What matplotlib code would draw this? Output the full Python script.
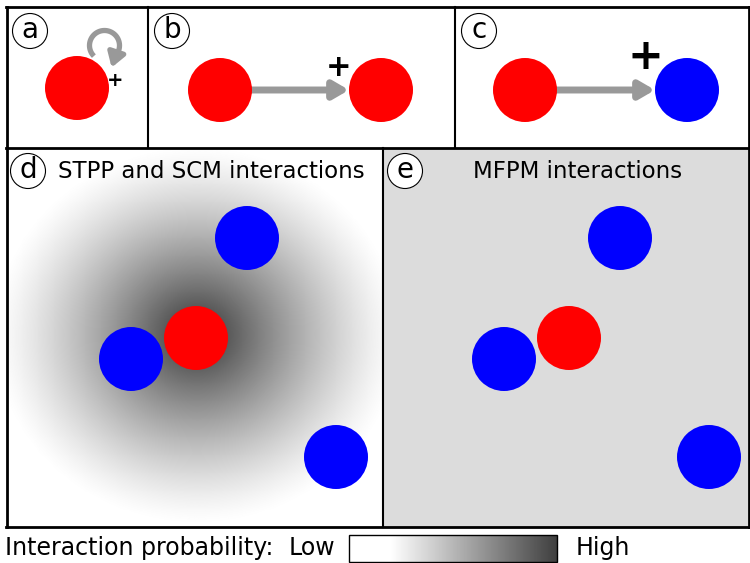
import numpy as np
import matplotlib.pyplot as plt
from matplotlib.patches import Circle, Rectangle, FancyArrowPatch
from matplotlib.colors import LinearSegmentedColormap

# node positions in picture pixels (x, y from top)
panel_a_nodes = [(77, 88)]
panel_a_colors = ['red']
panel_b_nodes = [(220, 90), (381, 90)]
panel_b_colors = ['red', 'red']
panel_c_nodes = [(525, 90), (687, 90)]
panel_c_colors = ['red', 'blue']
panel_d_nodes = [(247, 238), (196, 338), (131, 359), (336, 457)]
panel_d_colors = ['blue', 'red', 'blue', 'blue']
e_shift = 373
panel_labels = ['a', 'b', 'c', 'd', 'e']
label_pos = [(30, 31), (172, 31), (479, 31), (28, 171), (405, 171)]
titles = ['STPP and SCM interactions', 'MFPM interactions']
title_pos = [(211, 171), (578, 171)]
node_r = 32

fig = plt.figure(figsize=(7.5, 5.63), dpi=100)
ax = fig.add_axes([0, 0, 1, 1])
ax.set_xlim(0, 750)
ax.set_ylim(563, 0)
ax.axis('off')

greys = LinearSegmentedColormap.from_list('g', ['white', 'black'])

# panel e background
ax.add_patch(Rectangle((383, 148), 367, 379, facecolor='#dcdcdc', edgecolor='none', zorder=0))

# radial field around the red node in panel d
xx, yy = np.meshgrid(np.linspace(7, 383, 400), np.linspace(148, 527, 400))
cx, cy = 197, 335
s = np.sqrt(((xx - cx) / 205.0) ** 2 + ((yy - cy) / 190.0) ** 2)
field = 0.8 * np.clip(1 - s, 0, 1) ** 1.3
ax.imshow(field, cmap=greys, vmin=0, vmax=1, extent=(7, 383, 527, 148), zorder=0.5, interpolation='bilinear')

# frame lines
lw = 2
ax.plot([6, 750], [7, 7], color='black', lw=lw, zorder=5)
ax.plot([6, 750], [148, 148], color='black', lw=lw, zorder=5)
ax.plot([6, 750], [527, 527], color='black', lw=lw, zorder=5)
ax.plot([7, 7], [7, 527], color='black', lw=lw, zorder=5)
ax.plot([749, 749], [7, 527], color='black', lw=lw, zorder=5)
ax.plot([148, 148], [7, 148], color='black', lw=1.5, zorder=5)
ax.plot([455, 455], [7, 148], color='black', lw=1.5, zorder=5)
ax.plot([383, 383], [148, 527], color='black', lw=1.5, zorder=5)

def draw_nodes(pos, cols, dx=0):
    for (x, y), c in zip(pos, cols):
        ax.add_patch(Circle((x + dx, y), node_r, facecolor=c, edgecolor='none', zorder=3))

draw_nodes(panel_a_nodes, panel_a_colors)
draw_nodes(panel_b_nodes, panel_b_colors)
draw_nodes(panel_c_nodes, panel_c_colors)
draw_nodes(panel_d_nodes, panel_d_colors)
draw_nodes(panel_d_nodes, panel_d_colors, dx=e_shift)

# arrows b and c
for (x0, y0), (x1, y1) in [panel_b_nodes, panel_c_nodes]:
    ax.add_patch(FancyArrowPatch((x0 + node_r - 2, y0), (x1 - node_r, y1),
                                 arrowstyle='-|>,head_length=6,head_width=3.5', mutation_scale=1.5,
                                 color='#999999', lw=5, shrinkA=0, shrinkB=0, zorder=2))

# self loop in panel a: arc then a short arrow for the head
th = np.radians(np.linspace(225, -42, 60))
lx = 104.5 + 15 * np.cos(th)
ly = 45.5 - 15 * np.sin(th)
ax.plot(lx, ly, color='#999999', lw=3.8, solid_capstyle='butt', zorder=2)
tip = (lx[-1] - 4, ly[-1] + 12)
ax.add_patch(FancyArrowPatch((lx[-1] + 0.3, ly[-1] - 1), tip,
                             arrowstyle='-|>,head_length=5.5,head_width=3.5', mutation_scale=1.5,
                             color='#999999', lw=3.8, shrinkA=0, shrinkB=0, zorder=2))

# plus signs
ax.text(115, 80, '+', fontsize=14, fontweight='bold', ha='center', va='center', zorder=4)
ax.text(339, 68, '+', fontsize=22, fontweight='bold', ha='center', va='center', zorder=4)
ax.text(645, 57, '+', fontsize=31, fontweight='bold', ha='center', va='center', zorder=4)

# panel letters
for lab, (x, y) in zip(panel_labels, label_pos):
    ax.add_patch(Circle((x, y), 17.5, facecolor='white', edgecolor='black', lw=0.8, zorder=4))
    ax.text(x, y - 1, lab, fontsize=20, ha='center', va='center', zorder=5)

for t, (x, y) in zip(titles, title_pos):
    ax.text(x, y, t, fontsize=16.5, ha='center', va='center', zorder=5)

# colour key at the bottom
ax.text(5, 548, 'Interaction probability:', fontsize=17, ha='left', va='center')
ax.text(289, 548, 'Low', fontsize=17, ha='left', va='center')
ax.text(576, 548, 'High', fontsize=17, ha='left', va='center')
grad = np.clip((np.linspace(0, 1, 300) - 0.2) / 0.8, 0, 1)[None, :] * 0.75
ax.imshow(grad, cmap=greys, vmin=0, vmax=1, extent=(349, 557, 562, 535), aspect='auto', zorder=1)
ax.add_patch(Rectangle((349, 535), 208, 27, facecolor='none', edgecolor='black', lw=1, zorder=2))

ax.set_xlim(0, 750)
ax.set_ylim(563, 0)
fig.savefig('out.png', dpi=100)
